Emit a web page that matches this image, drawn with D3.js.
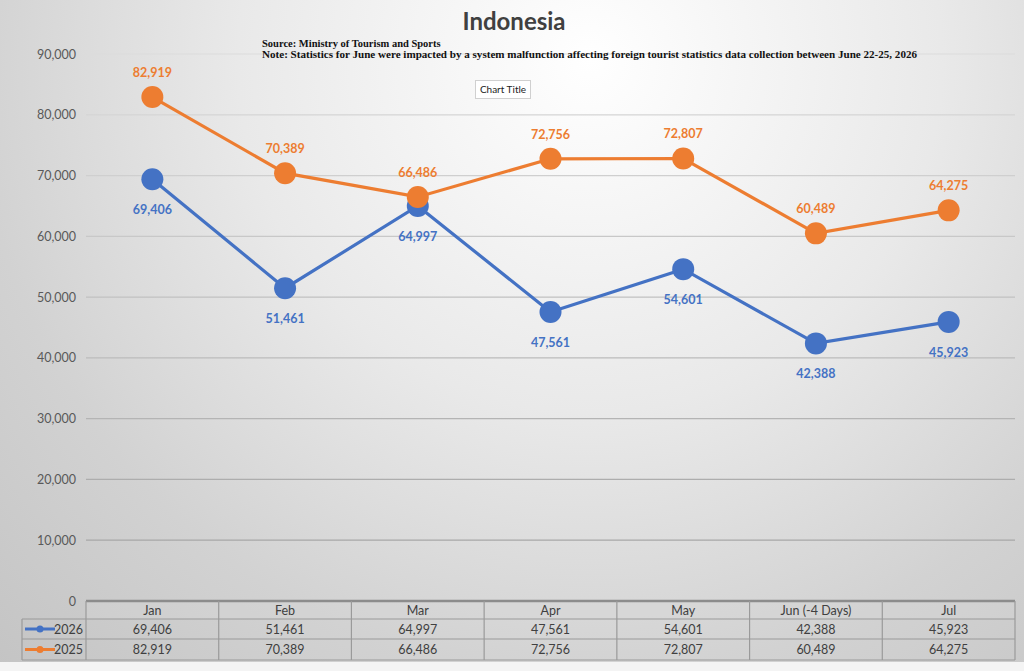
<!DOCTYPE html>
<html>
<head>
<meta charset="utf-8">
<script src="https://cdn.jsdelivr.net/npm/d3@7"></script>
<style>
  body { margin:0; padding:0; background:#fff; }
  svg { display:block; }
</style>
</head>
<body>
<script>
var width = 1024, height = 671;

var months = ["Jan","Feb","Mar","Apr","May","Jun (-4 Days)","Jul"];
var values2026 = [69406,51461,64997,47561,54601,42388,45923];
var values2025 = [82919,70389,66486,72756,72807,60489,64275];
var yTicks = [0,10000,20000,30000,40000,50000,60000,70000,80000,90000];
var seriesNames = ["2026","2025"];
var seriesColors = ["#4472C4","#ED7D31"];

var series = [
  {name:seriesNames[0], values:values2026, color:seriesColors[0], above:false},
  {name:seriesNames[1], values:values2025, color:seriesColors[1], above:true}
];

var plotLeft = 86, plotRight = 1015, plotTop = 54, plotBottom = 601;
var rowH = [18, 20, 21];

var svg = d3.select("body").append("svg")
  .attr("width", width)
  .attr("height", height);

var defs = svg.append("defs");
var bg = defs.append("radialGradient")
  .attr("id","bg")
  .attr("gradientUnits","userSpaceOnUse")
  .attr("cx",590).attr("cy",60).attr("r",880);
bg.append("stop").attr("offset",0).attr("stop-color","#ffffff");
bg.append("stop").attr("offset",0.4).attr("stop-color","#e9e9e9");
bg.append("stop").attr("offset",0.7).attr("stop-color","#d2d2d2");
bg.append("stop").attr("offset",1).attr("stop-color","#c2c2c2");

svg.append("rect").attr("width",width).attr("height",662).attr("fill","url(#bg)");
svg.append("rect").attr("y",662).attr("width",width).attr("height",9).attr("fill","#f4f4f4");

var x = d3.scaleBand().domain(months).range([plotLeft, plotRight]);
var y = d3.scaleLinear().domain([0, 90000]).range([plotBottom, plotTop]);

// gridlines, darker toward the bottom
var gridCol = d3.interpolateRgb("#a0a0a0", "#dcdcdc");
svg.append("g").selectAll("line").data(yTicks.filter(function(d){ return d > 0; }))
  .enter().append("line")
  .attr("x1", plotLeft).attr("x2", plotRight)
  .attr("y1", function(d){ return y(d); })
  .attr("y2", function(d){ return y(d); })
  .attr("stroke", function(d){ return gridCol(d/90000); })
  .attr("stroke-width", 1.2);

var yAxis = svg.append("g")
  .attr("transform","translate(" + (plotLeft-10) + ",0)")
  .call(d3.axisLeft(y).tickValues(yTicks).tickSize(0).tickPadding(0).tickFormat(d3.format(",")));
yAxis.select(".domain").remove();
yAxis.selectAll("text")
  .attr("fill","#595959")
  .style("font-family","Lato, 'Open Sans', sans-serif")
  .style("font-size","12.5px");

// title and notes
svg.append("text")
  .attr("x", 514).attr("y", 30)
  .attr("text-anchor","middle")
  .attr("fill","#404040")
  .style("font-family","Lato, 'Open Sans', sans-serif")
  .style("font-weight","bold")
  .style("font-size","24px")
  .text("Indonesia");

svg.append("text")
  .attr("x", 262).attr("y", 47)
  .attr("fill","#111")
  .style("font-family","'Liberation Serif', 'DejaVu Serif', serif")
  .style("font-weight","bold")
  .style("font-size","10.5px")
  .text("Source: Ministry of Tourism and Sports");
svg.append("text")
  .attr("x", 262).attr("y", 58)
  .attr("fill","#111")
  .attr("textLength", 655).attr("lengthAdjust","spacingAndGlyphs")
  .style("font-family","'Liberation Serif', 'DejaVu Serif', serif")
  .style("font-weight","bold")
  .style("font-size","10.5px")
  .text("Note: Statistics for June were impacted by a system malfunction affecting foreign tourist statistics data collection between June 22-25, 2026");

svg.append("rect")
  .attr("x",475.5).attr("y",80.5).attr("width",55).attr("height",18)
  .attr("fill","#fff").attr("stroke","#d0d0d0");
svg.append("text")
  .attr("x",503).attr("y",93)
  .attr("text-anchor","middle")
  .attr("fill","#222")
  .style("font-family","Lato, 'Open Sans', sans-serif")
  .style("font-size","10px")
  .text("Chart Title");

// lines, markers, labels
var line = d3.line()
  .x(function(d,i){ return x(months[i]) + x.bandwidth()/2; })
  .y(function(d){ return y(d); });

series.forEach(function(s){
  var g = svg.append("g");
  g.append("path")
    .datum(s.values)
    .attr("d", line)
    .attr("fill","none")
    .attr("stroke", s.color)
    .attr("stroke-width", 3.2);
  g.selectAll("circle").data(s.values).enter().append("circle")
    .attr("cx", function(d,i){ return x(months[i]) + x.bandwidth()/2; })
    .attr("cy", function(d){ return y(d); })
    .attr("r", 11)
    .attr("fill", s.color);
  g.selectAll("text").data(s.values).enter().append("text")
    .attr("x", function(d,i){ return x(months[i]) + x.bandwidth()/2; })
    .attr("y", function(d){ return y(d) + (s.above ? -20 : 35); })
    .attr("text-anchor","middle")
    .attr("fill", s.color)
    .style("font-family","Lato, 'Open Sans', sans-serif")
    .style("font-weight","bold")
    .style("font-size","12.5px")
    .text(function(d){ return d3.format(",")(d); });
});

// data table
var tbl = svg.append("g");
var tableTop = plotBottom;
var r1 = tableTop + rowH[0], r2 = r1 + rowH[1], r3 = r2 + rowH[2];
var legLeft = 22;
var fontT = "Lato, 'Open Sans', sans-serif";

tbl.append("rect").attr("x",plotLeft).attr("y",tableTop).attr("width",plotRight-plotLeft).attr("height",rowH[0])
  .attr("fill","#d6d6d6").attr("fill-opacity",0.35);

// horizontal borders
tbl.append("line").attr("x1",plotLeft).attr("x2",plotRight).attr("y1",tableTop).attr("y2",tableTop)
  .attr("stroke","#8c8c8c").attr("stroke-width",2.5);
[r1, r2, r3].forEach(function(yy){
  tbl.append("line").attr("x1",legLeft).attr("x2",plotRight).attr("y1",yy).attr("y2",yy)
    .attr("stroke","#9a9a9a").attr("stroke-width",1.2);
});
// vertical borders
tbl.append("line").attr("x1",legLeft).attr("x2",legLeft).attr("y1",r1).attr("y2",r3)
  .attr("stroke","#9a9a9a").attr("stroke-width",1.2);
tbl.selectAll(".vb").data(months).enter().append("line")
  .attr("x1", function(d){ return x(d); }).attr("x2", function(d){ return x(d); })
  .attr("y1", tableTop).attr("y2", r3)
  .attr("stroke","#9a9a9a").attr("stroke-width",1.2);
tbl.append("line").attr("x1",plotRight).attr("x2",plotRight).attr("y1",tableTop).attr("y2",r3)
  .attr("stroke","#9a9a9a").attr("stroke-width",1.2);

tbl.selectAll(".hd").data(months).enter().append("text")
  .attr("x", function(d){ return x(d) + x.bandwidth()/2; })
  .attr("y", tableTop + 14)
  .attr("text-anchor","middle")
  .attr("fill","#404040")
  .style("font-family",fontT).style("font-size","12.5px")
  .text(function(d){ return d; });

series.forEach(function(s, k){
  var ry = k === 0 ? r1 : r2;
  var h = rowH[k+1];
  tbl.selectAll(".v" + k).data(s.values).enter().append("text")
    .attr("x", function(d,i){ return x(months[i]) + x.bandwidth()/2; })
    .attr("y", ry + h/2 + 4.5)
    .attr("text-anchor","middle")
    .attr("fill","#404040")
    .style("font-family",fontT).style("font-size","12.5px")
    .text(function(d){ return d3.format(",")(d); });
  tbl.append("line")
    .attr("x1", 25).attr("x2", 55)
    .attr("y1", ry + h/2).attr("y2", ry + h/2)
    .attr("stroke", s.color).attr("stroke-width", 3);
  tbl.append("circle")
    .attr("cx", 40).attr("cy", ry + h/2).attr("r", 3.5)
    .attr("fill", s.color);
  tbl.append("text")
    .attr("x", 83).attr("y", ry + h/2 + 4.5)
    .attr("text-anchor","end")
    .attr("fill","#404040")
    .style("font-family",fontT).style("font-size","12.5px")
    .text(s.name);
});
</script>
</body>
</html>
